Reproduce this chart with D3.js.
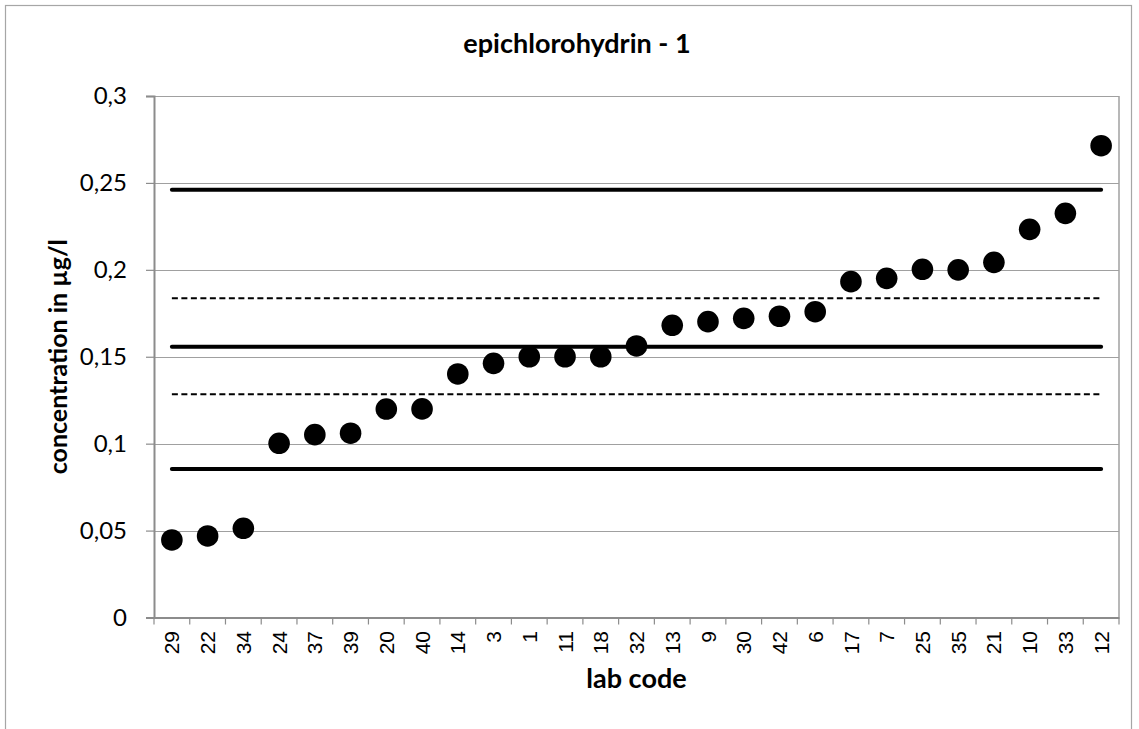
<!DOCTYPE html>
<html>
<head>
<meta charset="utf-8">
<script src="https://cdnjs.cloudflare.com/ajax/libs/d3/7.8.5/d3.min.js"></script>
<style>
    body { margin: 0; background: #ffffff; }
    svg  { display: block; }
</style>
</head>
<body>
<div id="chart"></div>
<script>
/* ---------------------------------------------------------- */
/* Data.                      */
/* ---------------------------------------------------------- */
var labCodes = ["29", "22", "34", "24", "37", "39", "20", "40", "14",
                "3",  "1",  "11", "18", "32", "13", "9",  "30", "42",
                "6",  "17", "7",  "25", "35", "21", "10", "33", "12"];
var concentrations = [0.0446, 0.0469, 0.0513, 0.1002, 0.1052, 0.1060,
                      0.1199, 0.1200, 0.1401, 0.1462, 0.1500, 0.1500,
                      0.1500, 0.1562, 0.1681, 0.1702, 0.1721, 0.1733,
                      0.1759, 0.1932, 0.1951, 0.2003, 0.2000, 0.2043,
                      0.2233, 0.2325, 0.2714];

// Horizontal reference lines (solid: limits and mean, dashed: inner band).
var solidLines  = [0.0854, 0.1558, 0.2460];
var dashedLines = [0.1284, 0.1836];

var yTicks = [0, 0.05, 0.1, 0.15, 0.2, 0.25, 0.3];

var chartTitle = "epichlorohydrin - 1";
var xTitle     = "lab code";
var yTitle     = "concentration in µg/l";

/* ---------------------------------------------------------- */
/* Layout.                                                    */
/* ---------------------------------------------------------- */
var width  = 1139;
var height = 729;
var plot   = {left: 154, right: 1119, top: 96, bottom: 617.5};
var font   = "Lato, 'Open Sans', sans-serif";

var svg = d3.select("#chart").append("svg")
            .attr("width",  width)
            .attr("height", height);

// Outer chart frame (its bottom edge lies below the picture).
svg.append("rect")
   .attr("x", 5.5).attr("y", 5.5)
   .attr("width", 1126).attr("height", 740)
   .attr("fill", "none")
   .attr("stroke", "#a6a6a6")
   .attr("stroke-width", 1.2);

var x = d3.scaleBand()
          .domain(labCodes)
          .range([plot.left, plot.right])
          .padding(0);

var y = d3.scaleLinear()
          .domain([0, 0.3])
          .range([plot.bottom, plot.top]);

var commaFormat = d3.formatLocale({decimal: ",", thousands: ".",
                                   grouping: [3], currency: ["", ""]})
                    .format("~g");

/* ---------------------------------------------------------- */
/* Gridlines and axes.                                        */
/* ---------------------------------------------------------- */
svg.append("g")
   .selectAll("line")
   .data(yTicks.slice(1))
   .enter().append("line")
   .attr("x1", plot.left).attr("x2", plot.right)
   .attr("y1", function(d) { return Math.round(y(d)) + 0.5; })
   .attr("y2", function(d) { return Math.round(y(d)) + 0.5; })
   .attr("stroke", "#a0a0a0")
   .attr("stroke-width", 1.2);

// Right border of the plot area.
svg.append("line")
   .attr("x1", plot.right).attr("x2", plot.right)
   .attr("y1", plot.top).attr("y2", plot.bottom)
   .attr("stroke", "#a0a0a0")
   .attr("stroke-width", 1.5);

var yAxis = d3.axisLeft(y)
              .tickValues(yTicks)
              .tickFormat(commaFormat)
              .tickSize(8)
              .tickPadding(19);

var yAxisG = svg.append("g")
                .attr("transform", "translate(" + plot.left + ",0)")
                .call(yAxis);
yAxisG.select(".domain").attr("stroke", "#8c8c8c").attr("stroke-width", 2);
yAxisG.selectAll(".tick line").attr("stroke", "#8c8c8c").attr("stroke-width", 1.2);
yAxisG.selectAll(".tick text")
      .attr("font-family", font)
      .attr("font-size", 24)
      .attr("fill", "#000");

// Category ticks sit on the band boundaries, labels on the band centres.
var xAxis = d3.axisBottom(x).tickSize(0).tickPadding(0);
var xAxisG = svg.append("g")
                .attr("transform", "translate(0," + plot.bottom + ")")
                .call(xAxis);
xAxisG.select(".domain").attr("stroke", "#8c8c8c").attr("stroke-width", 2);
xAxisG.selectAll(".tick text")
      .attr("font-family", "'Liberation Sans', Arial, sans-serif")
      .attr("font-size", 21)
      .attr("fill", "#000")
      .attr("text-anchor", "end")
      .attr("y", 0)
      .attr("dy", "0.36em")
      .attr("transform", "translate(0,13.5) rotate(-90)");

var boundaries = labCodes.map(function(d) { return x(d); }).concat([plot.right]);
svg.append("g")
   .selectAll("line")
   .data(boundaries)
   .enter().append("line")
   .attr("x1", function(d) { return d; })
   .attr("x2", function(d) { return d; })
   .attr("y1", plot.bottom)
   .attr("y2", plot.bottom + 7)
   .attr("stroke", "#8c8c8c")
   .attr("stroke-width", 1.2);

/* ---------------------------------------------------------- */
/* Reference lines, drawn from first to last category centre. */
/* ---------------------------------------------------------- */
var xFirst = x(labCodes[0]) + x.bandwidth() / 2;
var xLast  = x(labCodes[labCodes.length - 1]) + x.bandwidth() / 2;

svg.append("g")
   .selectAll("line")
   .data(solidLines)
   .enter().append("line")
   .attr("x1", xFirst).attr("x2", xLast)
   .attr("y1", function(d) { return y(d); })
   .attr("y2", function(d) { return y(d); })
   .attr("stroke", "#000")
   .attr("stroke-width", 4)
   .attr("stroke-linecap", "round");

svg.append("g")
   .selectAll("line")
   .data(dashedLines)
   .enter().append("line")
   .attr("x1", xFirst).attr("x2", xLast)
   .attr("y1", function(d) { return y(d); })
   .attr("y2", function(d) { return y(d); })
   .attr("stroke", "#000")
   .attr("stroke-width", 2)
   .attr("stroke-dasharray", "6,3.5");

/* ---------------------------------------------------------- */
/* Lab results.                                               */
/* ---------------------------------------------------------- */
svg.append("g")
   .selectAll("circle")
   .data(concentrations)
   .enter().append("circle")
   .attr("cx", function(d, i) { return x(labCodes[i]) + x.bandwidth() / 2; })
   .attr("cy", function(d) { return y(d); })
   .attr("r", 10.8)
   .attr("fill", "#000");

/* ---------------------------------------------------------- */
/* Titles.                                                    */
/* ---------------------------------------------------------- */
svg.append("text")
   .attr("x", 577).attr("y", 53)
   .attr("text-anchor", "middle")
   .attr("font-family", font)
   .attr("font-weight", "bold")
   .attr("font-size", 27)
   .text(chartTitle);

svg.append("text")
   .attr("x", (plot.left + plot.right) / 2).attr("y", 688)
   .attr("text-anchor", "middle")
   .attr("font-family", font)
   .attr("font-weight", "bold")
   .attr("font-size", 27)
   .text(xTitle);

svg.append("text")
   .attr("transform", "translate(67," + ((plot.top + plot.bottom) / 2) + ") rotate(-90)")
   .attr("text-anchor", "middle")
   .attr("font-family", font)
   .attr("font-weight", "bold")
   .attr("font-size", 25)
   .text(yTitle);
</script>
</body>
</html>
